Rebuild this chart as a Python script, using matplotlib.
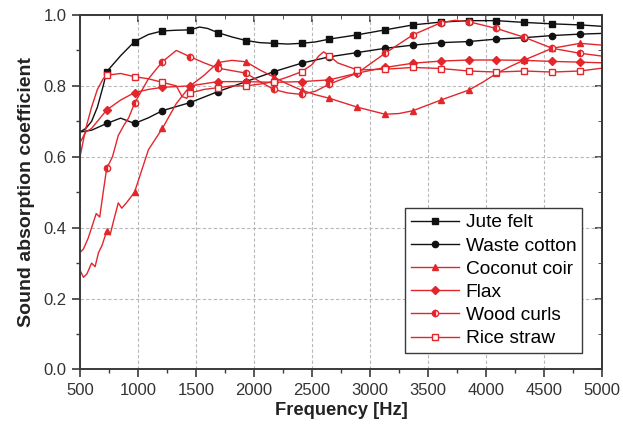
import matplotlib.pyplot as plt
from matplotlib.ticker import MultipleLocator

plt.rcParams["font.family"] = ["Liberation Sans", "DejaVu Sans"]

# ----------------------------
# Dados
# ----------------------------
marker_freqs = [730, 970, 1210, 1450, 1690, 1930, 2170, 2410, 2650, 2890,
                3130, 3370, 3610, 3850, 4090, 4330, 4570, 4810]

jute_f = [500, 550, 600, 650, 700, 730, 850, 970, 1090, 1210, 1330, 1450, 1530, 1600,
          1690, 1810, 1930, 2050, 2170, 2290, 2410, 2530, 2650, 2890, 3130, 3370,
          3610, 3850, 4090, 4330, 4570, 4810, 5000]
jute_v = [0.67, 0.68, 0.70, 0.74, 0.80, 0.84, 0.885, 0.925, 0.945, 0.955, 0.957, 0.958,
          0.966, 0.962, 0.950, 0.938, 0.928, 0.922, 0.920, 0.918, 0.920, 0.924, 0.932,
          0.944, 0.958, 0.972, 0.980, 0.984, 0.984, 0.979, 0.975, 0.972, 0.968]

cotton_f = [500, 600, 730, 850, 970, 1090, 1210, 1450, 1690, 1930, 2170, 2410, 2650,
            2890, 3130, 3370, 3610, 3850, 4090, 4330, 4570, 4810, 5000]
cotton_v = [0.67, 0.675, 0.694, 0.709, 0.694, 0.71, 0.73, 0.753, 0.784, 0.812, 0.840,
            0.864, 0.882, 0.894, 0.906, 0.915, 0.922, 0.925, 0.932, 0.936, 0.942,
            0.946, 0.948]

coir_f = [500, 530, 560, 600, 630, 660, 690, 730, 760, 790, 830, 860, 900, 970, 1030,
          1090, 1210, 1330, 1450, 1570, 1690, 1810, 1930, 2050, 2170, 2290, 2410, 2530,
          2650, 2890, 3130, 3250, 3370, 3610, 3850, 3970, 4090, 4210, 4330, 4570, 4810,
          5000]
coir_v = [0.28, 0.26, 0.27, 0.30, 0.29, 0.33, 0.35, 0.39, 0.38, 0.42, 0.47, 0.455, 0.47,
          0.50, 0.56, 0.62, 0.68, 0.75, 0.80, 0.83, 0.866, 0.872, 0.868, 0.845, 0.825,
          0.805, 0.788, 0.775, 0.765, 0.740, 0.720, 0.722, 0.730, 0.760, 0.788, 0.81,
          0.835, 0.855, 0.873, 0.906, 0.920, 0.915]

flax_f = [500, 550, 600, 650, 730, 850, 970, 1090, 1210, 1450, 1690, 1930, 2170, 2410,
          2650, 2890, 3130, 3370, 3610, 3850, 4090, 4330, 4570, 4810, 5000]
flax_v = [0.64, 0.67, 0.68, 0.70, 0.732, 0.76, 0.781, 0.79, 0.796, 0.800, 0.812, 0.812,
          0.810, 0.812, 0.817, 0.836, 0.852, 0.864, 0.870, 0.873, 0.873, 0.872, 0.869,
          0.867, 0.865]

wood_f = [500, 530, 570, 600, 640, 670, 700, 730, 780, 830, 880, 920, 970, 1090, 1210,
          1330, 1450, 1570, 1690, 1810, 1930, 2050, 2170, 2290, 2410, 2530, 2650, 2890,
          3130, 3370, 3610, 3730, 3850, 4090, 4330, 4570, 4810, 5000]
wood_v = [0.33, 0.34, 0.37, 0.40, 0.44, 0.43, 0.50, 0.567, 0.60, 0.66, 0.69, 0.71, 0.751,
          0.82, 0.868, 0.90, 0.882, 0.865, 0.850, 0.843, 0.836, 0.812, 0.790, 0.780,
          0.776, 0.785, 0.805, 0.836, 0.892, 0.944, 0.978, 0.985, 0.981, 0.962, 0.937,
          0.906, 0.892, 0.884]

rice_f = [500, 550, 600, 650, 700, 730, 850, 970, 1090, 1210, 1330, 1380, 1420, 1450,
          1570, 1690, 1810, 1930, 2050, 2170, 2290, 2410, 2500, 2560, 2600, 2650, 2720,
          2890, 3130, 3370, 3610, 3850, 4090, 4330, 4570, 4810, 5000]
rice_v = [0.60, 0.68, 0.74, 0.79, 0.82, 0.83, 0.835, 0.826, 0.82, 0.81, 0.80, 0.77, 0.765,
          0.78, 0.79, 0.795, 0.80, 0.80, 0.805, 0.812, 0.825, 0.840, 0.86, 0.885, 0.896,
          0.885, 0.865, 0.845, 0.847, 0.852, 0.849, 0.842, 0.839, 0.842, 0.839, 0.842,
          0.85]

RED = "#e3262b"
BLACK = "#111111"
AXC = "#3a3a3a"

series = [
    ("Jute felt", jute_f, jute_v, BLACK, dict(marker="s", markersize=4)),
    ("Waste cotton", cotton_f, cotton_v, BLACK, dict(marker="o")),
    ("Coconut coir", coir_f, coir_v, RED, dict(marker="^")),
    ("Flax", flax_f, flax_v, RED, dict(marker="D", markersize=3.8)),
    ("Wood curls", wood_f, wood_v, RED, dict(marker="o", fillstyle="left", markerfacecoloralt="white")),
    ("Rice straw", rice_f, rice_v, RED, dict(marker="s", markersize=4, markerfacecolor="white")),
]

# ----------------------------
# Figura
# ----------------------------
fig = plt.figure(figsize=(6.23, 4.28), dpi=100)
ax = fig.add_axes([0.1284, 0.1367, 0.838, 0.8283])

for nome, f, v, cor, estilo in series:
    idx = [i for i, x in enumerate(f) if x in marker_freqs]
    kw = dict(markersize=4.5, markeredgewidth=1.0)
    kw.update(estilo)
    ax.plot(f, v, color=cor, lw=1.0, markevery=idx, markeredgecolor=cor, label=nome, **kw)

ax.set_xlim(500, 5000)
ax.set_ylim(0.0, 1.0)
ax.xaxis.set_major_locator(MultipleLocator(500))
ax.xaxis.set_minor_locator(MultipleLocator(250))
ax.yaxis.set_major_locator(MultipleLocator(0.2))
ax.yaxis.set_minor_locator(MultipleLocator(0.1))
ax.yaxis.set_major_formatter(plt.FuncFormatter(lambda y, _: f"{y:.1f}"))

ax.grid(True, which="major", color="#b8b8b8", linestyle=(0, (3, 2)), linewidth=0.8)
ax.set_axisbelow(True)

for s in ax.spines.values():
    s.set_linewidth(1.4)
    s.set_color(AXC)

ax.tick_params(which="both", direction="out", labelsize=12, colors=AXC, labelcolor="#333333")
ax.tick_params(which="major", length=6, width=1.2)
ax.tick_params(which="minor", length=3, width=1.0)

# ticks internos em cima e à direita
topo = ax.secondary_xaxis("top")
topo.xaxis.set_major_locator(MultipleLocator(500))
topo.xaxis.set_minor_locator(MultipleLocator(250))
topo.tick_params(which="both", direction="in", labeltop=False, colors=AXC)
topo.tick_params(which="major", length=5, width=1.2)
topo.tick_params(which="minor", length=3)
dir_ = ax.secondary_yaxis("right")
dir_.yaxis.set_major_locator(MultipleLocator(0.2))
dir_.yaxis.set_minor_locator(MultipleLocator(0.1))
dir_.tick_params(which="both", direction="in", labelright=False, colors=AXC)
dir_.tick_params(which="major", length=5, width=1.2)
dir_.tick_params(which="minor", length=3)
for s in list(topo.spines.values()) + list(dir_.spines.values()):
    s.set_linewidth(1.4)
    s.set_color(AXC)

ax.set_xlabel("Frequency [Hz]", fontsize=13.2, fontweight="bold", labelpad=3, color="#222222")
ax.set_ylabel("Sound absorption coefficient", fontsize=14, fontweight="bold", labelpad=6,
              color="#222222")

leg = ax.legend(loc="lower right", bbox_to_anchor=(0.9617, 0.0465), fontsize=13.8,
                frameon=True, fancybox=False, edgecolor=AXC, framealpha=1,
                handlelength=2.5, handletextpad=0.35, labelspacing=0.3,
                borderpad=0.3, borderaxespad=0)
leg.get_frame().set_linewidth(1.0)

fig.savefig("out.png", dpi=100)
